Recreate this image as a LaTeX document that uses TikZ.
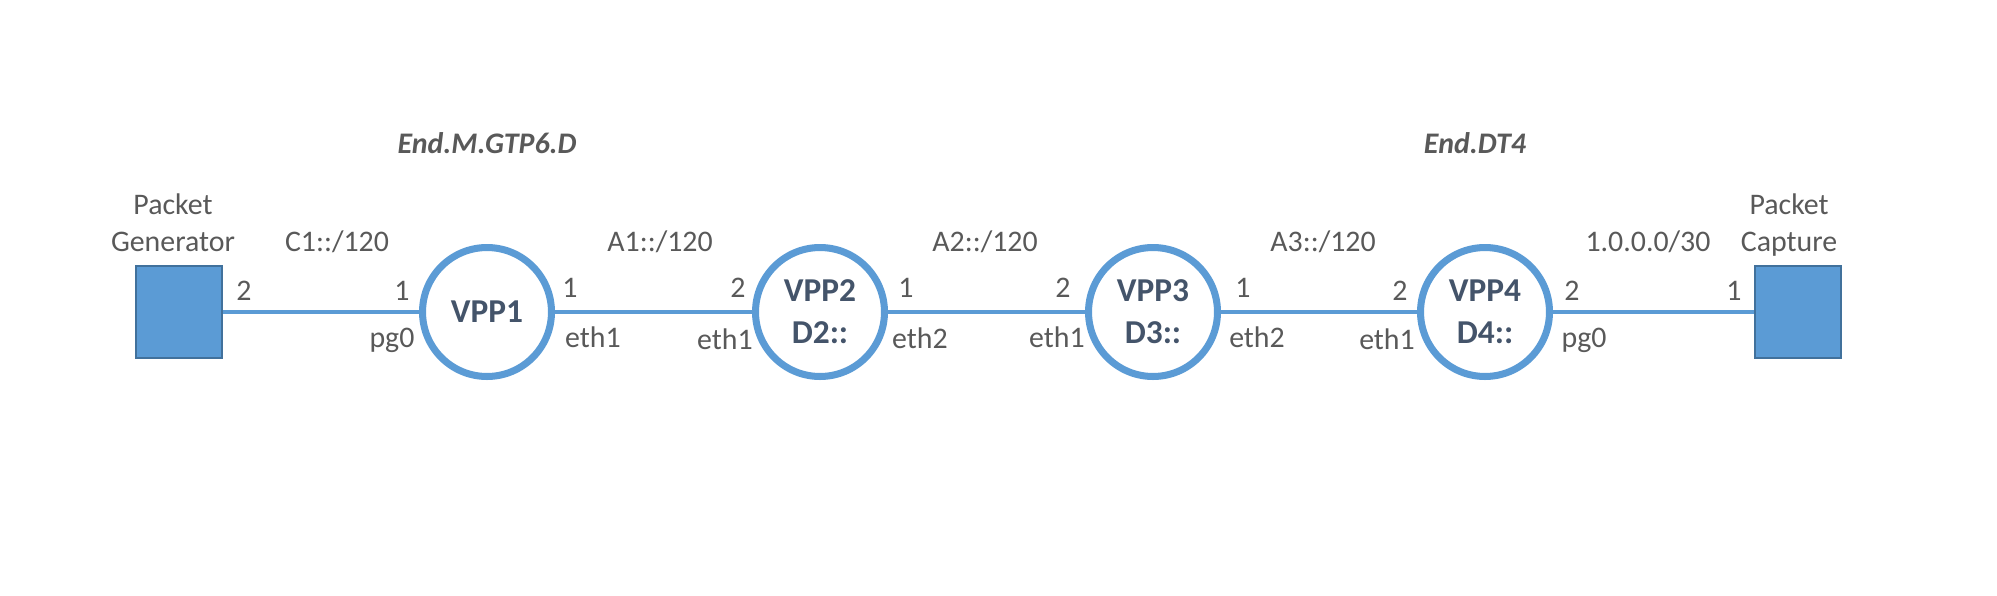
\documentclass[tikz,border=0pt]{standalone}
\usepackage{fontspec}
\setmainfont{Carlito}
\usetikzlibrary{positioning}
\definecolor{vppblue}{HTML}{5B9BD5}
\definecolor{boxedge}{HTML}{41719C}
\definecolor{labgray}{HTML}{595959}
\definecolor{vpptext}{HTML}{44546A}

\begin{document}
\begin{tikzpicture}[x=0.02cm,y=0.02cm]
	\tikzstyle{every node}+=[inner sep=0pt]
	\tikzstyle{vpp}=[draw=vppblue, line width=4pt, circle, minimum size=2.58cm, fill=white, text=vpptext, font=\fontsize{19}{24}\selectfont\bfseries, align=center]
	\tikzstyle{host}=[draw=boxedge, line width=0.8pt, fill=vppblue, minimum width=1.72cm, minimum height=1.84cm]
	\tikzstyle{lbl}=[text=labgray, font=\fontsize{17}{21}\selectfont, anchor=base, align=center]
	\tikzstyle{sid}=[text=labgray, font=\fontsize{17}{20}\selectfont\bfseries\itshape, anchor=base]
	\tikzstyle{link}=[vppblue, line width=2.8pt]
	\useasboundingbox (0,0) rectangle (1997,-595);
	% hosts and routers
	\node [host] (gen) at (179,-312) {};
	\node [host] (cap) at (1798,-312) {};
	\node [vpp] (vpp1) at (487,-312) {VPP1};
	\node [vpp] (vpp2) at (820,-312) {VPP2\\D2::};
	\node [vpp] (vpp3) at (1153,-312) {VPP3\\D3::};
	\node [vpp] (vpp4) at (1485,-312) {VPP4\\D4::};
	% links
	\draw [link] (gen) -- (vpp1);
	\draw [link] (vpp1) -- (vpp2);
	\draw [link] (vpp2) -- (vpp3);
	\draw [link] (vpp3) -- (vpp4);
	\draw [link] (vpp4) -- (cap);
	% titles
	\node [lbl] (genname) at (173,-251) {Packet\\Generator};
	\node [lbl] (capname) at (1789,-251) {Packet\\Capture};
	\node [sid] (sid1) at (487,-153) {End.M.GTP6.D};
	\node [sid] (sid4) at (1475,-153) {End.DT4};
	% subnets
	\node [lbl] (net0) at (337,-251) {C1::/120};
	\node [lbl] (net1) at (660,-251) {A1::/120};
	\node [lbl] (net2) at (985,-251) {A2::/120};
	\node [lbl] (net3) at (1323,-251) {A3::/120};
	\node [lbl] (net4) at (1648,-251) {1.0.0.0/30};
	% port numbers
	\node [lbl] (p0a) at (244,-300) {2};
	\node [lbl] (p0b) at (402,-300) {1};
	\node [lbl] (p1a) at (570,-297) {1};
	\node [lbl] (p1b) at (738,-297) {2};
	\node [lbl] (p2a) at (906,-297) {1};
	\node [lbl] (p2b) at (1063,-297) {2};
	\node [lbl] (p3a) at (1243,-297) {1};
	\node [lbl] (p3b) at (1400,-300) {2};
	\node [lbl] (p4a) at (1572,-300) {2};
	\node [lbl] (p4b) at (1734,-300) {1};
	% interfaces
	\node [lbl] (if0) at (392,-347) {pg0};
	\node [lbl] (if1a) at (593,-347) {eth1};
	\node [lbl] (if1b) at (725,-349) {eth1};
	\node [lbl] (if2a) at (920,-348) {eth2};
	\node [lbl] (if2b) at (1057,-347) {eth1};
	\node [lbl] (if3a) at (1257,-347) {eth2};
	\node [lbl] (if3b) at (1387,-349) {eth1};
	\node [lbl] (if4) at (1584,-347) {pg0};
\end{tikzpicture}
\end{document}
